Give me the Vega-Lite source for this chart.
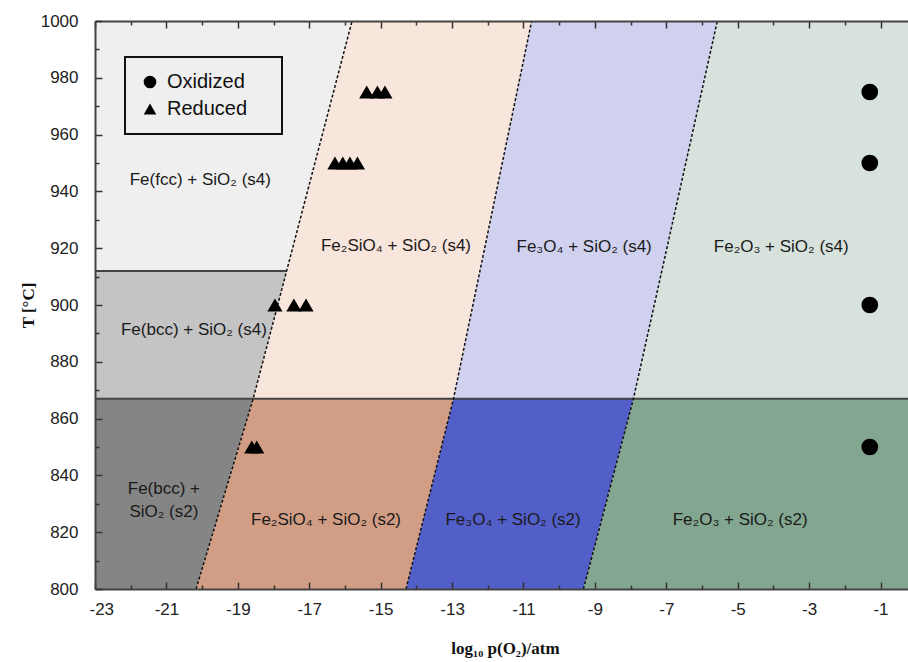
{
  "$schema": "https://vega.github.io/schema/vega-lite/v6.json",
  "width": 813,
  "height": 568,
  "autosize": {"type": "none"},
  "padding": {"left": 95, "top": 21, "right": 0, "bottom": 73},
  "background": "white",
  "config": {
    "view": {"stroke": null},
    "font": "Liberation Sans",
    "legend": {"strokeWidth": 2},
    "axis": {
      "zindex": 2,
      "domainColor": "#444444",
      "domainWidth": 2,
      "tickColor": "#333333",
      "tickWidth": 1.5,
      "grid": false,
      "labelFont": "Liberation Sans",
      "labelFontSize": 17,
      "labelColor": "#222222",
      "titleFont": "Liberation Serif",
      "titleFontWeight": "bold",
      "titleFontSize": 17,
      "titleColor": "#111111"
    }
  },
  "datasets": {
    "regions": [
      {"region": "Fe_fcc_s4", "T": 912, "x1": -23, "x2": -17.63},
      {"region": "Fe_fcc_s4", "T": 1000, "x1": -23, "x2": -15.80},
      {"region": "Fe_bcc_s4", "T": 867, "x1": -23, "x2": -18.57},
      {"region": "Fe_bcc_s4", "T": 912, "x1": -23, "x2": -17.63},
      {"region": "Fe_bcc_s2", "T": 800, "x1": -23, "x2": -20.17},
      {"region": "Fe_bcc_s2", "T": 867, "x1": -23, "x2": -18.57},
      {"region": "Fe2SiO4_s4", "T": 867, "x1": -18.57, "x2": -12.96},
      {"region": "Fe2SiO4_s4", "T": 1000, "x1": -15.80, "x2": -10.77},
      {"region": "Fe2SiO4_s2", "T": 800, "x1": -20.17, "x2": -14.29},
      {"region": "Fe2SiO4_s2", "T": 867, "x1": -18.57, "x2": -12.96},
      {"region": "Fe3O4_s4", "T": 867, "x1": -12.96, "x2": -7.92},
      {"region": "Fe3O4_s4", "T": 1000, "x1": -10.77, "x2": -5.57},
      {"region": "Fe3O4_s2", "T": 800, "x1": -14.29, "x2": -9.32},
      {"region": "Fe3O4_s2", "T": 867, "x1": -12.96, "x2": -7.92},
      {"region": "Fe2O3_s4", "T": 867, "x1": -7.92, "x2": -0.23},
      {"region": "Fe2O3_s4", "T": 1000, "x1": -5.57, "x2": -0.23},
      {"region": "Fe2O3_s2", "T": 800, "x1": -9.32, "x2": -0.23},
      {"region": "Fe2O3_s2", "T": 867, "x1": -7.92, "x2": -0.23}
    ],
    "boundaries": [
      {"b": "B1", "T": 800, "logp": -20.17},
      {"b": "B1", "T": 867, "logp": -18.57},
      {"b": "B1", "T": 1000, "logp": -15.80},
      {"b": "B2", "T": 800, "logp": -14.29},
      {"b": "B2", "T": 867, "logp": -12.96},
      {"b": "B2", "T": 1000, "logp": -10.77},
      {"b": "B3", "T": 800, "logp": -9.32},
      {"b": "B3", "T": 867, "logp": -7.92},
      {"b": "B3", "T": 1000, "logp": -5.57}
    ],
    "transitions": [
      {"t": "Fe", "T": 912, "logp": -23},
      {"t": "Fe", "T": 912, "logp": -17.63},
      {"t": "SiO2", "T": 867, "logp": -23},
      {"t": "SiO2", "T": 867, "logp": -0.23}
    ],
    "samples": [
      {"Condition": "Reduced", "T": 975, "logp": -15.39},
      {"Condition": "Reduced", "T": 975, "logp": -15.09},
      {"Condition": "Reduced", "T": 975, "logp": -14.88},
      {"Condition": "Reduced", "T": 950, "logp": -16.28},
      {"Condition": "Reduced", "T": 950, "logp": -16.06},
      {"Condition": "Reduced", "T": 950, "logp": -15.86},
      {"Condition": "Reduced", "T": 950, "logp": -15.65},
      {"Condition": "Reduced", "T": 900, "logp": -17.96},
      {"Condition": "Reduced", "T": 900, "logp": -17.43},
      {"Condition": "Reduced", "T": 900, "logp": -17.09},
      {"Condition": "Reduced", "T": 850, "logp": -18.61},
      {"Condition": "Reduced", "T": 850, "logp": -18.47},
      {"Condition": "Oxidized", "T": 975, "logp": -1.3},
      {"Condition": "Oxidized", "T": 950, "logp": -1.3},
      {"Condition": "Oxidized", "T": 900, "logp": -1.3},
      {"Condition": "Oxidized", "T": 850, "logp": -1.3}
    ],
    "labels": [
      {"text": "Fe(fcc) + SiO₂ (s4)", "T": 944, "logp": -20.05},
      {"text": "Fe₂SiO₄ + SiO₂ (s4)", "T": 920.8, "logp": -14.57},
      {"text": "Fe₃O₄ + SiO₂ (s4)", "T": 920.3, "logp": -9.30},
      {"text": "Fe₂O₃ + SiO₂ (s4)", "T": 920.5, "logp": -3.78},
      {"text": "Fe(bcc) + SiO₂ (s4)", "T": 891.2, "logp": -20.23},
      {"text": "Fe(bcc) +\nSiO₂ (s2)", "T": 835.2, "logp": -21.07},
      {"text": "Fe₂SiO₄ + SiO₂ (s2)", "T": 824.3, "logp": -16.53},
      {"text": "Fe₃O₄ + SiO₂ (s2)", "T": 824.3, "logp": -11.29},
      {"text": "Fe₂O₃ + SiO₂ (s2)", "T": 824.3, "logp": -4.93}
    ]
  },
  "resolve": {"axis": {"x": "independent", "y": "independent"}},
  "layer": [
    {
      "data": {"name": "regions"},
      "mark": {"type": "area", "orient": "horizontal"},
      "encoding": {
        "y": {
          "field": "T", "type": "quantitative",
          "scale": {"domain": [800, 1000], "nice": false, "zero": false},
          "axis": {
            "zindex": 2,
            "title": "T [°C]",
            "values": [800, 820, 840, 860, 880, 900, 920, 940, 960, 980, 1000],
            "format": "d",
            "tickSize": -7,
            "labelPadding": 24,
            "titleAngle": -90,
            "titleX": -67,
            "titleY": 284,
            "titleAlign": "center",
            "titleBaseline": "middle"
          }
        },
        "x": {
          "field": "x1", "type": "quantitative",
          "scale": {"domain": [-23, -0.23], "nice": false, "zero": false},
          "axis": {
            "zindex": 2,
            "title": "log₁₀ p(O₂)/atm",
            "values": [-23, -21, -19, -17, -15, -13, -11, -9, -7, -5, -3, -1],
            "labelExpr": "'' + datum.value",
            "labelFlushOffset": 6,
            "tickSize": -7,
            "labelPadding": 19,
            "titleX": 410,
            "titleY": 59,
            "titleAlign": "center",
            "titleBaseline": "middle"
          }
        },
        "x2": {"field": "x2"},
        "color": {
          "field": "region", "type": "nominal", "legend": null,
          "scale": {
            "domain": ["Fe_fcc_s4", "Fe_bcc_s4", "Fe_bcc_s2", "Fe2SiO4_s4", "Fe2SiO4_s2", "Fe3O4_s4", "Fe3O4_s2", "Fe2O3_s4", "Fe2O3_s2"],
            "range": ["#efefef", "#c4c4c4", "#858585", "#f8e5db", "#d19e85", "#cfd1ef", "#535fc8", "#d8e2dc", "#83a690"]
          }
        }
      }
    },
    {
      "data": {"name": "transitions"},
      "mark": {"type": "line", "color": "#444444", "strokeWidth": 2},
      "encoding": {
        "x": {
          "field": "logp", "type": "quantitative",
          "axis": {
            "zindex": 2,
            "orient": "bottom", "title": null, "labels": false, "domain": false,
            "values": [-22, -20, -18, -16, -14, -12, -10, -8, -6, -4, -2],
            "tickSize": -4
          }
        },
        "y": {
          "field": "T", "type": "quantitative",
          "axis": {
            "zindex": 2,
            "orient": "left", "title": null, "labels": false, "domain": false,
            "values": [810, 830, 850, 870, 890, 910, 930, 950, 970, 990],
            "tickSize": -4
          }
        },
        "detail": {"field": "t"}
      }
    },
    {
      "data": {"name": "boundaries"},
      "mark": {"type": "line", "color": "#111111", "strokeWidth": 1.5, "strokeDash": [3, 2]},
      "encoding": {
        "x": {
          "field": "logp", "type": "quantitative",
          "axis": {
            "zindex": 2,
            "orient": "top", "title": null, "labels": false, "domain": false,
            "values": [-22, -20, -18, -16, -14, -12, -10, -8, -6, -4, -2],
            "tickSize": -4
          }
        },
        "y": {"field": "T", "type": "quantitative", "axis": null},
        "detail": {"field": "b"},
        "order": {"field": "T"}
      }
    },
    {
      "data": {"name": "labels"},
      "mark": {"type": "text", "fontSize": 17, "color": "#1a1a1a", "baseline": "middle", "align": "center", "lineBreak": "\n", "lineHeight": 23},
      "encoding": {
        "x": {
          "field": "logp", "type": "quantitative",
          "axis": {
            "zindex": 2,
            "orient": "top",
            "title": null,
            "labels": false,
            "values": [-23, -21, -19, -17, -15, -13, -11, -9, -7, -5, -3, -1],
            "tickSize": -7
          }
        },
        "y": {"field": "T", "type": "quantitative", "axis": null},
        "text": {"field": "text"}
      }
    },
    {
      "data": {"name": "samples"},
      "mark": {"type": "point", "filled": true, "color": "black", "opacity": 1},
      "encoding": {
        "x": {"field": "logp", "type": "quantitative", "axis": null},
        "y": {"field": "T", "type": "quantitative", "axis": null},
        "size": {"condition": {"test": "datum.Condition === 'Oxidized'", "value": 280}, "value": 230},
        "shape": {
          "field": "Condition", "type": "nominal",
          "scale": {"domain": ["Oxidized", "Reduced"], "range": ["circle", "triangle-up"]},
          "legend": {
            "title": " ",
            "titleOrient": "right",
            "titlePadding": 20,
            "titleFontSize": 4,
            "orient": "none",
            "legendX": 30,
            "legendY": 36,
            "padding": 15,
            "fillColor": "#efefef",
            "strokeColor": "#111111",
            "labelFontSize": 20,
            "labelFont": "Liberation Sans",
            "labelColor": "#111111",
            "labelOffset": 7,
            "symbolSize": 160,
            "symbolFillColor": "black",
            "symbolStrokeColor": "black",
            "rowPadding": 7
          }
        }
      }
    }
  ]
}
